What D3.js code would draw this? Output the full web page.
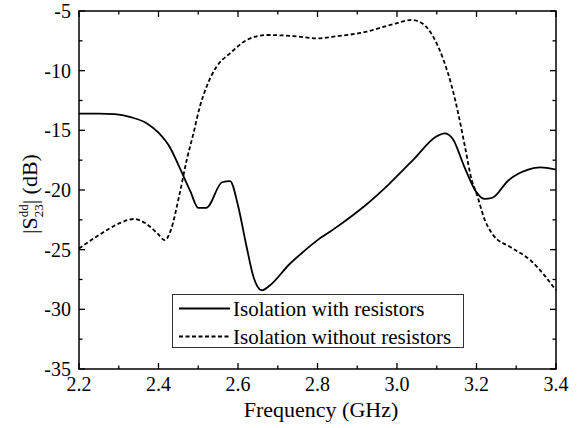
<!DOCTYPE html>
<html><head><meta charset="utf-8">
<script src="https://cdn.jsdelivr.net/npm/d3@7"></script>
<style>body{margin:0;background:#fff}svg{display:block}</style>
</head><body><svg id="c" width="582" height="428"></svg>
<script>
const xTicks = [2.2, 2.4, 2.6, 2.8, 3.0, 3.2, 3.4];
const yTicks = [-35, -30, -25, -20, -15, -10, -5];
const seriesNames = ["Isolation with resistors", "Isolation without resistors"];
const freqWith = [2.20,2.25,2.29,2.33,2.37,2.40,2.43,2.45,2.48,2.50,2.52,2.56,2.58,2.60,2.62,2.64,2.66,2.68,2.73,2.76,2.80,2.84,2.92,2.98,3.04,3.10,3.12,3.14,3.17,3.20,3.22,3.24,3.28,3.33,3.36,3.40];
const isoWith = [-13.6,-13.6,-13.65,-13.9,-14.4,-15.2,-16.5,-17.9,-20.1,-21.5,-21.5,-19.35,-19.25,-21.3,-24.5,-27.4,-28.4,-28.0,-26.2,-25.3,-24.2,-23.3,-21.3,-19.5,-17.5,-15.5,-15.25,-15.7,-18.1,-20.2,-20.75,-20.65,-19.2,-18.3,-18.1,-18.3];
const freqWithout = [2.200,2.250,2.301,2.338,2.368,2.397,2.416,2.431,2.452,2.471,2.488,2.504,2.521,2.546,2.580,2.622,2.672,2.739,2.802,2.840,2.924,2.991,3.037,3.066,3.091,3.117,3.138,3.154,3.171,3.188,3.200,3.221,3.242,3.284,3.335,3.400];
const isoWithout = [-24.9,-23.78,-22.8,-22.43,-22.8,-23.63,-24.2,-23.36,-20.5,-17.49,-15.25,-13.02,-11.34,-9.67,-8.55,-7.43,-7.01,-7.1,-7.29,-7.15,-6.73,-6.09,-5.75,-6.09,-7.15,-9.1,-11.34,-13.58,-16.37,-19.17,-20.28,-22.52,-23.78,-24.76,-25.87,-28.4];

// pick an installed serif font
const fontCandidates = ["Liberation Serif", "Times New Roman", "Tinos", "Nimbus Roman", "DejaVu Serif", "Noto Serif", "FreeSerif"];
function pickFont() {
  const ctx = document.createElement("canvas").getContext("2d");
  const s = "mmmmmmmmmmlliIWw0123456789";
  for (const base of ["monospace", "sans-serif"]) {
    ctx.font = "40px " + base;
    const w0 = ctx.measureText(s).width;
    for (const f of fontCandidates) {
      ctx.font = "40px '" + f + "', " + base;
      if (Math.abs(ctx.measureText(s).width - w0) > 0.5) return "'" + f + "', serif";
    }
  }
  return "serif";
}
const FONT = pickFont();

const svg = d3.select("#c").attr("font-family", FONT);
const L = 79, R = 556, T = 11, B = 369;
const x = d3.scaleLinear().domain([2.2, 3.4]).range([L, R]);
const y = d3.scaleLinear().domain([-35, -5]).range([B, T]);

const xMinor = d3.range(2.3, 3.4, 0.2);
const yMinor = d3.range(-32.5, -5, 5);

const g = svg.append("g").attr("stroke", "#000").attr("stroke-width", 1.3);
xTicks.forEach(v => {
  g.append("line").attr("x1", x(v)).attr("x2", x(v)).attr("y1", B).attr("y2", B - 6);
  g.append("line").attr("x1", x(v)).attr("x2", x(v)).attr("y1", T).attr("y2", T + 6);
});
xMinor.forEach(v => {
  g.append("line").attr("x1", x(v)).attr("x2", x(v)).attr("y1", B).attr("y2", B - 3.5);
  g.append("line").attr("x1", x(v)).attr("x2", x(v)).attr("y1", T).attr("y2", T + 3.5);
});
yTicks.forEach(v => {
  g.append("line").attr("x1", L).attr("x2", L + 6).attr("y1", y(v)).attr("y2", y(v));
  g.append("line").attr("x1", R).attr("x2", R - 6).attr("y1", y(v)).attr("y2", y(v));
});
yMinor.forEach(v => {
  g.append("line").attr("x1", L).attr("x2", L + 3.5).attr("y1", y(v)).attr("y2", y(v));
  g.append("line").attr("x1", R).attr("x2", R - 3.5).attr("y1", y(v)).attr("y2", y(v));
});
svg.append("rect").attr("x", L).attr("y", T).attr("width", R - L).attr("height", B - T)
  .attr("fill", "none").attr("stroke", "#000").attr("stroke-width", 1.5);

svg.append("g").selectAll("text").data(xTicks).join("text")
  .attr("x", d => x(d)).attr("y", 391).attr("text-anchor", "middle").attr("font-size", 20)
  .text(d => d3.format(".1f")(d));
svg.append("g").selectAll("text").data(yTicks).join("text")
  .attr("x", 71).attr("y", d => y(d) + 7).attr("text-anchor", "end").attr("font-size", 20)
  .text(d => d);

svg.append("text").attr("x", 321).attr("y", 417).attr("text-anchor", "middle").attr("font-size", 22)
  .text("Frequency (GHz)");
const yl = svg.append("text").attr("transform", "translate(37,194) rotate(-90)")
  .attr("text-anchor", "middle").attr("font-size", 22);
yl.append("tspan").text("|S");
yl.append("tspan").attr("font-size", 13).attr("dy", -9).text("dd");
yl.append("tspan").attr("font-size", 13).attr("dx", -13).attr("dy", 15).text("23");
yl.append("tspan").attr("dy", -6).text("| (dB)");

const line = d3.line().x(d => x(d[0])).y(d => y(d[1])).curve(d3.curveMonotoneX);
const dWith = freqWith.map((f, i) => [f, isoWith[i]]);
const dWithout = freqWithout.map((f, i) => [f, isoWithout[i]]);
svg.append("path").datum(dWithout).attr("d", line).attr("fill", "none")
  .attr("stroke", "#000").attr("stroke-width", 1.8).attr("stroke-dasharray", "4,2.5");
svg.append("path").datum(dWith).attr("d", line).attr("fill", "none")
  .attr("stroke", "#000").attr("stroke-width", 1.8);

const lg = svg.append("g");
lg.append("rect").attr("x", 172.5).attr("y", 294.5).attr("width", 291).attr("height", 53)
  .attr("fill", "#fff").attr("stroke", "#333").attr("stroke-width", 1);
lg.append("line").attr("x1", 179).attr("x2", 230).attr("y1", 308.5).attr("y2", 308.5)
  .attr("stroke", "#000").attr("stroke-width", 1.8);
lg.append("line").attr("x1", 179).attr("x2", 230).attr("y1", 336.5).attr("y2", 336.5)
  .attr("stroke", "#000").attr("stroke-width", 1.8).attr("stroke-dasharray", "4,2.5");
lg.append("text").attr("x", 233).attr("y", 315.5).attr("font-size", 21).text(seriesNames[0]);
lg.append("text").attr("x", 233).attr("y", 344).attr("font-size", 21).text(seriesNames[1]);
</script></body></html>
